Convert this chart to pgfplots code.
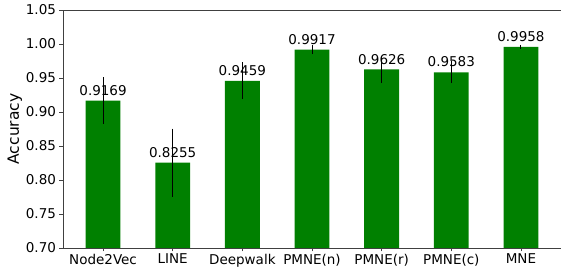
\documentclass[border=0pt]{standalone}
\usepackage{pgfplots}
\pgfplotsset{compat=1.18}
\usepackage{pgfplotstable}
\usepackage{fontspec}
\setmainfont{DejaVu Sans}
\definecolor{mplgreen}{HTML}{008000}
\pgfplotstableread{
x y err lab
0 0.9169 0.034 0.9169
1 0.8255 0.050 0.8255
2 0.9459 0.027 0.9459
3 0.9917 0.0067 0.9917
4 0.9626 0.020 0.9626
5 0.9583 0.016 0.9583
6 0.9958 0.003 0.9958
}\datatable
\begin{document}
\begin{tikzpicture}
\begin{axis}[
  scale only axis,
  width=498pt, height=238pt,
  xmin=-0.575, xmax=6.575,
  ymin=0.70, ymax=1.05,
  ytick={0.70,0.75,...,1.05},
  yticklabel style={/pgf/number format/fixed,/pgf/number format/precision=2,/pgf/number format/fixed zerofill},
  /pgf/number format/assume math mode=true,
  xtick={0,1,2,3,4,5,6},
  xticklabels={Node2Vec,LINE,Deepwalk,PMNE(n),PMNE(r),PMNE(c),MNE},
  tick label style={font=\fontsize{13.5}{15}\selectfont},
  xticklabel style={yshift=1pt},
  ylabel={Accuracy},
  ylabel style={font=\fontsize{15.5}{18}\selectfont, yshift=-3pt},
  tick align=outside,
  xtick pos=bottom, ytick pos=left,
  major tick length=3.5pt,
  axis line style={black!75, line width=0.6pt},
  tick style={black!75, line width=0.6pt},
  ybar, bar width=0.5, bar shift=0pt,
]
\addplot[fill=mplgreen, draw=none,
  error bars/.cd, y dir=both, y explicit, error mark=none,
  error bar style={black, line width=1pt}]
  table[x=x, y=y, y error=err] {\datatable};
\addplot[draw=none, fill=none, forget plot,
  nodes near coords,
  point meta=explicit symbolic,
  nodes near coords style={font=\fontsize{13.5}{15}\selectfont, anchor=south, inner sep=2pt, yshift=3pt, text=black}]
  table[x=x, y=y, meta=lab] {\datatable};
\end{axis}
\pgfresetboundingbox
\path ([xshift=-63pt,yshift=-26pt]current axis.south west) rectangle ([yshift=10pt]current axis.north east);
\end{tikzpicture}
\end{document}
